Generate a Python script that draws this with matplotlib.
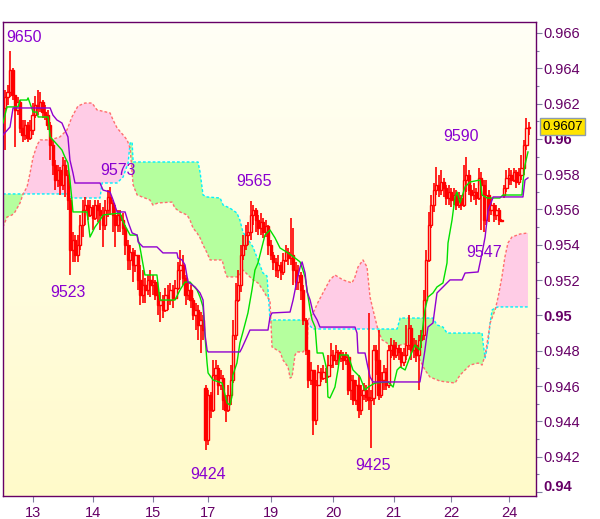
import numpy as np
import matplotlib
matplotlib.use("Agg")
import matplotlib.pyplot as plt
from matplotlib.patches import Rectangle
from matplotlib.collections import LineCollection
from matplotlib.colors import LinearSegmentedColormap
from matplotlib.transforms import ScaledTranslation, blended_transform_factory

plt.rcParams['font.family'] = ['Liberation Sans', 'DejaVu Sans']

# ---------------- data (prices in pips, 1 pip = 0.0001) ----------------
open_p = [
    9617.5, 9623.7, 9626.6, 9639.0, 9624.9, 9616.4, 9620.9, 9606.2, 9602.2, 9607.9,
    9600.5, 9605.0, 9613.5, 9619.2, 9617.5, 9620.9, 9615.2, 9613.5, 9607.9, 9596.5,
    9585.2, 9576.7, 9582.4, 9573.9, 9585.2, 9579.5, 9565.4, 9537.1, 9542.7, 9534.2,
    9539.9, 9551.2, 9559.7, 9562.5, 9556.9, 9561.4, 9555.2, 9562.5, 9559.7, 9556.9,
    9551.2, 9559.7, 9567.1, 9563.7, 9556.9, 9551.2, 9556.9, 9554.0, 9549.5, 9539.9,
    9531.4, 9535.9, 9528.6, 9534.2, 9520.1, 9511.6, 9517.2, 9514.4, 9520.1, 9517.2,
    9518.9, 9511.6, 9505.9, 9508.7, 9503.1, 9511.6, 9508.7, 9514.4, 9509.9, 9515.5,
    9525.7, 9528.6, 9521.2, 9511.6, 9514.4, 9508.7, 9500.2, 9503.1, 9494.6, 9497.4,
    9458.9, 9429.4, 9454.9, 9446.4, 9466.2, 9470.2, 9460.6, 9464.5, 9452.1, 9446.4,
    9454.9, 9463.4, 9488.9, 9508.7, 9517.2, 9534.2, 9539.9, 9545.5, 9547.2, 9556.9,
    9559.7, 9554.0, 9549.5, 9552.9, 9547.2, 9550.6, 9539.9, 9534.2, 9530.3, 9525.7,
    9528.6, 9524.6, 9531.4, 9535.9, 9532.5, 9534.2, 9525.7, 9518.9, 9522.9, 9514.4,
    9497.4, 9480.4, 9463.4, 9469.1, 9440.7, 9460.6, 9467.9, 9464.5, 9467.9, 9465.7,
    9471.9, 9477.6, 9474.7, 9479.3, 9475.9, 9477.6, 9474.7, 9476.4, 9457.7, 9463.4,
    9452.1, 9460.6, 9446.4, 9454.9, 9457.7, 9453.8, 9452.1, 9453.2, 9480.4, 9474.7,
    9454.9, 9463.4, 9467.9, 9460.6, 9480.4, 9483.2, 9477.6, 9481.5, 9479.3, 9473.6,
    9477.6, 9483.2, 9492.9, 9480.4, 9483.2, 9477.6, 9486.1, 9488.9, 9508.7, 9531.4,
    9551.2, 9562.5, 9571.0, 9573.9, 9571.0, 9575.6, 9572.2, 9566.5, 9569.9, 9565.4,
    9568.2, 9562.5, 9566.5, 9562.5, 9576.7, 9579.5, 9571.0, 9568.2, 9569.9, 9566.5,
    9577.9, 9573.9, 9554.0, 9568.2, 9559.7, 9562.5, 9556.9, 9559.7, 9554.0, 9568.2,
    9572.2, 9577.9, 9579.5, 9576.7, 9581.2, 9575.6, 9579.5, 9583.5, 9596.5, 9606.2,
]
high_p = [
    9627.7, 9630.5, 9650.0, 9640.2, 9624.9, 9623.7, 9622.0, 9610.7, 9610.7, 9609.6,
    9610.7, 9620.3, 9624.3, 9627.7, 9626.6, 9622.0, 9619.2, 9616.4, 9609.6, 9599.4,
    9588.0, 9585.2, 9584.1, 9589.7, 9588.0, 9582.4, 9566.5, 9547.2, 9545.5, 9545.5,
    9556.9, 9565.4, 9567.1, 9565.4, 9565.4, 9562.5, 9565.4, 9565.4, 9563.7, 9561.4,
    9565.4, 9571.0, 9573.0, 9565.4, 9562.5, 9559.7, 9559.7, 9558.0, 9551.2, 9542.7,
    9539.9, 9538.2, 9537.1, 9534.2, 9528.6, 9525.7, 9521.2, 9522.9, 9525.7, 9522.9,
    9520.1, 9514.4, 9513.3, 9511.6, 9515.5, 9517.2, 9518.4, 9517.2, 9520.1, 9530.3,
    9537.1, 9534.2, 9522.9, 9518.9, 9517.2, 9509.9, 9507.0, 9505.9, 9501.9, 9500.2,
    9460.6, 9457.7, 9456.6, 9474.7, 9474.7, 9471.9, 9469.1, 9466.2, 9454.9, 9460.6,
    9471.9, 9497.4, 9518.4, 9525.7, 9539.9, 9545.5, 9551.2, 9552.9, 9565.0, 9562.5,
    9560.8, 9556.9, 9558.0, 9555.2, 9554.0, 9551.2, 9542.7, 9535.9, 9532.5, 9534.2,
    9530.3, 9535.4, 9539.9, 9538.2, 9555.2, 9549.5, 9530.3, 9528.6, 9524.6, 9517.2,
    9498.5, 9480.4, 9473.6, 9469.1, 9463.4, 9471.9, 9470.2, 9471.9, 9470.2, 9477.6,
    9484.4, 9480.4, 9483.2, 9480.4, 9480.4, 9479.3, 9479.3, 9477.6, 9466.2, 9466.2,
    9463.4, 9466.2, 9460.6, 9461.7, 9460.6, 9501.4, 9457.7, 9483.2, 9483.2, 9491.7,
    9467.9, 9471.9, 9470.2, 9483.2, 9487.2, 9486.1, 9484.9, 9483.2, 9481.5, 9481.5,
    9494.6, 9500.2, 9494.6, 9487.2, 9486.1, 9488.9, 9491.7, 9514.4, 9537.1, 9558.6,
    9568.2, 9575.0, 9584.1, 9579.5, 9582.4, 9577.9, 9573.9, 9573.9, 9572.2, 9572.2,
    9571.0, 9569.9, 9568.2, 9585.2, 9590.0, 9582.4, 9573.9, 9575.0, 9572.2, 9583.5,
    9581.2, 9576.7, 9576.7, 9571.0, 9566.5, 9563.7, 9562.5, 9560.8, 9554.6, 9573.9,
    9582.4, 9583.5, 9582.4, 9583.5, 9582.4, 9583.5, 9590.9, 9599.4, 9611.8, 9609.6,
]
low_p = [
    9593.7, 9619.2, 9623.7, 9622.0, 9595.4, 9613.5, 9603.3, 9598.2, 9599.4, 9598.2,
    9599.4, 9602.2, 9611.8, 9613.5, 9615.2, 9611.8, 9610.7, 9605.0, 9588.0, 9579.5,
    9571.0, 9572.8, 9568.2, 9571.0, 9567.1, 9559.7, 9523.0, 9530.3, 9530.3, 9530.3,
    9537.1, 9544.4, 9551.2, 9554.0, 9555.7, 9548.4, 9554.0, 9552.9, 9548.4, 9538.8,
    9548.4, 9555.7, 9556.9, 9547.2, 9538.8, 9547.2, 9547.2, 9545.5, 9534.2, 9525.7,
    9525.7, 9518.9, 9524.6, 9514.4, 9505.9, 9507.0, 9507.0, 9511.6, 9510.4, 9511.6,
    9508.7, 9500.2, 9496.3, 9498.5, 9501.9, 9503.1, 9505.9, 9504.2, 9508.7, 9514.4,
    9520.1, 9517.2, 9505.9, 9508.7, 9504.2, 9497.4, 9491.7, 9486.1, 9478.7, 9486.1,
    9424.0, 9426.6, 9441.9, 9445.3, 9463.4, 9454.9, 9457.7, 9446.4, 9439.6, 9445.3,
    9449.2, 9461.7, 9486.1, 9507.6, 9513.3, 9531.4, 9537.1, 9539.9, 9542.7, 9551.2,
    9547.2, 9545.5, 9545.5, 9543.9, 9544.4, 9534.2, 9531.4, 9525.7, 9521.8, 9521.2,
    9520.1, 9522.9, 9530.3, 9528.6, 9528.6, 9517.2, 9514.4, 9514.4, 9508.7, 9494.6,
    9477.6, 9458.9, 9460.6, 9432.2, 9437.9, 9460.6, 9462.3, 9463.4, 9461.7, 9464.5,
    9470.2, 9470.2, 9471.9, 9471.9, 9473.6, 9469.1, 9471.9, 9454.9, 9452.1, 9449.2,
    9449.2, 9441.9, 9443.6, 9452.1, 9450.9, 9446.4, 9425.0, 9449.2, 9466.2, 9452.1,
    9453.2, 9457.7, 9457.7, 9458.9, 9475.9, 9474.7, 9475.9, 9474.7, 9470.2, 9471.3,
    9474.7, 9480.4, 9474.7, 9475.9, 9473.6, 9457.7, 9481.5, 9486.1, 9507.6, 9530.3,
    9549.5, 9558.6, 9568.2, 9567.1, 9568.2, 9567.1, 9562.5, 9562.5, 9561.4, 9562.5,
    9559.7, 9560.8, 9559.7, 9561.4, 9569.9, 9568.2, 9564.2, 9565.4, 9562.5, 9565.4,
    9548.4, 9547.0, 9551.2, 9552.9, 9556.9, 9552.9, 9554.0, 9551.2, 9552.9, 9566.5,
    9569.9, 9573.9, 9573.9, 9575.6, 9572.2, 9573.9, 9576.7, 9579.5, 9593.7, 9602.2,
]
close_p = [
    9623.7, 9626.6, 9639.0, 9624.9, 9616.4, 9620.9, 9606.2, 9602.2, 9607.9, 9600.5,
    9605.0, 9613.5, 9619.2, 9617.5, 9620.9, 9615.2, 9613.5, 9607.9, 9596.5, 9585.2,
    9576.7, 9582.4, 9573.9, 9585.2, 9579.5, 9565.4, 9537.1, 9542.7, 9534.2, 9539.9,
    9551.2, 9559.7, 9562.5, 9556.9, 9561.4, 9555.2, 9562.5, 9559.7, 9556.9, 9551.2,
    9559.7, 9567.1, 9563.7, 9556.9, 9551.2, 9556.9, 9554.0, 9549.5, 9539.9, 9531.4,
    9535.9, 9528.6, 9534.2, 9520.1, 9511.6, 9517.2, 9514.4, 9520.1, 9517.2, 9518.9,
    9511.6, 9505.9, 9508.7, 9503.1, 9511.6, 9508.7, 9514.4, 9509.9, 9515.5, 9525.7,
    9528.6, 9521.2, 9511.6, 9514.4, 9508.7, 9500.2, 9503.1, 9494.6, 9497.4, 9491.7,
    9429.4, 9454.9, 9446.4, 9466.2, 9470.2, 9460.6, 9464.5, 9452.1, 9446.4, 9454.9,
    9463.4, 9488.9, 9508.7, 9517.2, 9534.2, 9539.9, 9545.5, 9547.2, 9556.9, 9559.7,
    9554.0, 9549.5, 9552.9, 9547.2, 9550.6, 9539.9, 9534.2, 9530.3, 9525.7, 9528.6,
    9524.6, 9531.4, 9535.9, 9532.5, 9534.2, 9525.7, 9518.9, 9522.9, 9514.4, 9497.4,
    9480.4, 9463.4, 9469.1, 9440.7, 9460.6, 9467.9, 9464.5, 9467.9, 9465.7, 9471.9,
    9477.6, 9474.7, 9479.3, 9475.9, 9477.6, 9474.7, 9476.4, 9457.7, 9463.4, 9452.1,
    9460.6, 9446.4, 9454.9, 9457.7, 9453.8, 9452.1, 9453.2, 9480.4, 9474.7, 9454.9,
    9463.4, 9467.9, 9460.6, 9480.4, 9483.2, 9477.6, 9481.5, 9479.3, 9473.6, 9477.6,
    9483.2, 9492.9, 9480.4, 9483.2, 9477.6, 9486.1, 9488.9, 9508.7, 9531.4, 9551.2,
    9562.5, 9571.0, 9573.9, 9571.0, 9575.6, 9572.2, 9566.5, 9569.9, 9565.4, 9568.2,
    9562.5, 9566.5, 9562.5, 9576.7, 9579.5, 9571.0, 9568.2, 9569.9, 9566.5, 9577.9,
    9573.9, 9554.0, 9568.2, 9559.7, 9562.5, 9556.9, 9559.7, 9554.0, 9553.5, 9572.2,
    9577.9, 9579.5, 9576.7, 9581.2, 9575.6, 9579.5, 9583.5, 9596.5, 9606.2, 9607.0,
]

# Ichimoku lines: (candle index, price in pips)
tenkan_x = [-0.8, 0.8, 5.2, 6.0, 8.8, 9.2, 11.2, 12.8, 13.2, 17.2, 18.0, 19.9, 22.7, 23.9, 25.1,
            25.9, 26.7, 27.1, 32.7, 33.9, 35.9, 37.9, 39.1, 45.9, 47.1, 49.9, 52.7, 53.8, 55.8,
            60.6, 61.8, 67.8, 69.8, 71.8, 73.8, 76.6, 77.8, 79.0, 79.8, 80.6, 81.0, 83.0, 86.6,
            88.6, 89.7, 90.5, 90.9, 92.5, 93.7, 94.9, 96.9, 98.5, 99.7, 100.9, 102.5, 103.7,
            105.7, 107.7, 109.7, 112.9, 115.7, 117.7, 119.7, 121.7, 122.5, 123.7, 124.5, 126.8,
            128.4, 128.8, 129.6, 131.6, 132.8, 133.6, 136.8, 138.8, 141.6, 143.6, 144.8, 147.6,
            152.8, 154.8, 156.4, 157.6, 159.6, 161.5, 163.5, 165.5, 167.5, 168.7, 170.7, 172.3,
            174.7, 176.3, 176.7, 178.3, 179.5, 180.3, 181.5, 183.5, 185.5, 189.5, 190.3, 192.3,
            197.4, 198.6, 206.2, 206.6, 207.4, 208.6]
tenkan_p = [9609.0, 9618.1, 9618.1, 9622.0, 9622.0, 9623.2, 9615.2, 9615.2, 9612.4, 9612.4,
            9601.1, 9598.2, 9593.7, 9589.7, 9586.3, 9576.7, 9565.4, 9558.6, 9558.6, 9544.4,
            9550.1, 9554.0, 9556.9, 9558.0, 9552.9, 9545.5, 9545.5, 9538.8, 9522.9, 9522.9,
            9508.7, 9508.7, 9514.4, 9518.9, 9518.9, 9514.4, 9510.4, 9504.8, 9487.8, 9473.0,
            9467.4, 9463.4, 9461.7, 9450.4, 9449.2, 9453.8, 9466.2, 9473.0, 9484.4, 9490.6,
            9501.4, 9514.4, 9525.7, 9529.7, 9538.8, 9545.5, 9548.4, 9543.9, 9538.2, 9535.4,
            9532.5, 9530.3, 9521.8, 9503.1, 9497.4, 9493.4, 9478.7, 9478.7, 9469.1, 9453.8,
            9453.2, 9459.4, 9469.1, 9477.6, 9477.6, 9469.1, 9465.1, 9457.7, 9459.4, 9461.7,
            9462.3, 9459.4, 9469.1, 9470.8, 9469.1, 9476.4, 9483.2, 9480.4, 9503.1, 9510.4,
            9512.7, 9516.1, 9518.4, 9529.7, 9541.0, 9554.0, 9567.1, 9569.9, 9563.7, 9572.8,
            9575.6, 9576.7, 9568.2, 9566.5, 9566.5, 9568.2, 9568.2, 9575.6, 9585.2, 9592.6]

kijun_x = [-0.8, 2.0, 3.2, 18.0, 19.1, 20.7, 22.7, 23.9, 25.1, 25.9, 27.1, 27.9, 37.9, 39.1, 41.9,
           43.1, 44.7, 47.9, 49.1, 50.7, 52.7, 53.1, 55.0, 60.6, 61.8, 63.0, 68.6, 69.0, 70.6,
           71.8, 73.0, 75.8, 77.8, 79.0, 79.8, 80.6, 81.0, 93.7, 94.5, 96.5, 97.7, 104.9, 105.7,
           106.5, 113.7, 114.9, 116.5, 117.7, 118.5, 119.7, 120.5, 121.7, 122.9, 124.5, 125.6,
           139.6, 140.4, 140.8, 143.6, 144.4, 145.6, 146.8, 165.5, 166.3, 167.5, 168.7, 170.7,
           172.3, 174.7, 176.3, 177.5, 182.3, 183.5, 188.7, 190.3, 191.5, 192.7, 194.3, 194.7,
           206.6, 207.4, 208.6]
kijun_p = [9602.2, 9606.7, 9617.5, 9617.5, 9613.5, 9610.7, 9609.0, 9605.0, 9601.1, 9588.0,
           9580.7, 9575.0, 9575.0, 9571.0, 9569.9, 9565.4, 9558.6, 9558.6, 9552.9, 9546.7,
           9545.5, 9541.6, 9538.8, 9538.8, 9537.1, 9535.4, 9535.4, 9532.5, 9531.4, 9528.6,
           9518.9, 9516.1, 9512.7, 9508.7, 9488.9, 9480.4, 9479.3, 9479.3, 9481.5, 9487.8,
           9491.7, 9491.7, 9499.1, 9501.4, 9501.9, 9508.7, 9520.1, 9527.4, 9530.3, 9524.0,
           9513.3, 9508.7, 9501.4, 9497.4, 9493.4, 9493.4, 9490.0, 9478.7, 9478.7, 9473.0,
           9465.1, 9462.3, 9462.3, 9469.1, 9480.4, 9493.4, 9495.7, 9512.7, 9516.1, 9518.4,
           9520.1, 9520.1, 9524.0, 9524.6, 9535.4, 9544.4, 9559.7, 9565.4, 9567.1, 9567.1,
           9576.7, 9577.9]

span_a_x = [-0.8, 24.7, 26.7, 37.9, 38.7, 44.7, 47.1, 49.1, 49.9, 50.7, 51.1, 77.0, 77.8, 79.0,
            80.6, 85.8, 87.0, 89.7, 92.5, 93.7, 94.9, 98.9, 100.9, 102.9, 104.5, 104.9, 105.7,
            118.9, 120.5, 122.9, 156.4, 157.6, 170.7, 172.3, 174.7, 176.3, 190.3, 190.7, 191.5,
            192.7, 193.5, 194.3, 195.5, 196.7, 208.6]
span_a_p = [9568.8, 9568.8, 9566.5, 9566.5, 9575.0, 9575.0, 9578.4, 9586.3, 9597.7, 9598.2,
            9586.9, 9586.9, 9581.2, 9568.2, 9567.1, 9566.5, 9562.5, 9560.8, 9558.0, 9554.0,
            9547.2, 9538.8, 9531.4, 9524.0, 9522.3, 9514.4, 9497.4, 9497.4, 9495.7, 9492.3,
            9492.3, 9498.5, 9498.5, 9494.6, 9493.4, 9490.0, 9490.0, 9484.4, 9475.9, 9484.4,
            9495.7, 9503.1, 9504.2, 9504.8, 9504.8]

span_b_x = [-0.8, 0.8, 2.8, 4.0, 6.0, 7.2, 8.8, 10.0, 11.2, 12.8, 14.0, 18.0, 21.9, 24.7, 26.7,
            29.1, 31.9, 34.7, 36.7, 41.9, 43.1, 44.7, 47.1, 48.7, 49.9, 51.1, 52.7, 57.8, 59.0,
            61.0, 66.6, 67.8, 69.8, 72.6, 73.8, 75.0, 76.6, 77.8, 79.0, 80.6, 81.8, 86.6, 87.8,
            88.6, 92.9, 94.9, 97.7, 98.9, 100.9, 102.9, 104.5, 105.7, 106.5, 109.7, 110.9,
            112.9, 113.7, 114.5, 115.7, 116.5, 118.9, 120.5, 120.9, 122.9, 124.9, 126.8, 129.6,
            131.6, 134.8, 138.4, 139.6, 140.8, 142.8, 144.4, 145.6, 146.8, 148.8, 150.4, 152.4,
            153.6, 155.6, 157.6, 161.5, 163.5, 165.5, 167.5, 169.5, 173.5, 179.5, 181.5, 185.5,
            188.7, 190.3, 191.5, 192.7, 193.5, 195.5, 196.7, 198.2, 199.4, 200.6, 202.2, 205.4,
            208.6]
span_b_p = [9550.1, 9555.7, 9556.9, 9558.6, 9563.7, 9568.8, 9572.8, 9580.7, 9589.7, 9596.5,
            9599.4, 9599.4, 9601.1, 9605.0, 9612.4, 9618.6, 9620.3, 9620.3, 9616.4, 9614.7,
            9610.7, 9606.2, 9602.2, 9599.4, 9594.8, 9573.9, 9568.2, 9565.4, 9562.5, 9563.7,
            9564.2, 9560.8, 9558.6, 9556.9, 9554.0, 9549.5, 9546.7, 9543.9, 9539.9, 9535.4,
            9531.4, 9531.4, 9524.6, 9521.8, 9521.8, 9525.7, 9521.8, 9520.1, 9518.4, 9514.4,
            9510.4, 9508.7, 9482.1, 9479.3, 9474.7, 9470.8, 9464.5, 9465.1, 9477.6, 9479.3,
            9479.3, 9482.1, 9497.4, 9501.4, 9507.6, 9512.7, 9520.1, 9522.9, 9520.1, 9518.4,
            9521.8, 9527.4, 9531.4, 9527.4, 9510.4, 9503.1, 9491.7, 9486.1, 9484.4, 9480.4,
            9482.1, 9483.2, 9484.4, 9480.4, 9474.7, 9469.1, 9465.1, 9462.8, 9461.7, 9466.2,
            9471.9, 9473.0, 9471.9, 9477.6, 9487.8, 9495.7, 9503.1, 9510.4, 9521.8, 9533.1,
            9541.0, 9544.4, 9546.1, 9546.7]

day_labels = ['13', '14', '15', '17', '19', '20', '21', '22', '24']
day_index = [11, 35, 59, 81, 106, 131, 155, 178, 201]

y_ticks = [0.940, 0.942, 0.944, 0.946, 0.948, 0.950, 0.952, 0.954, 0.956, 0.958,
           0.960, 0.962, 0.964, 0.966]
y_tick_labels = ['', '0.942', '0.944', '0.946', '0.948', '0.95', '0.952', '0.954', '0.956',
                 '0.958', '0.96', '0.962', '0.964', '0.966']
y_minor = [0.941, 0.943, 0.945, 0.947, 0.949, 0.951, 0.953, 0.955, 0.957, 0.959,
           0.961, 0.963, 0.965]

extreme_labels = ['9650', '9573', '9523', '9565', '9424', '9425', '9590', '9547']
extreme_label_xy = [(7.6, 0.96577), (45.1, 0.95818), (25.1, 0.95127), (99.3, 0.95756),
                    (81.0, 0.94096), (146.8, 0.94152), (181.9, 0.96016), (191.1, 0.95354)]
last_price = '0.9607'

PIP = 1e-4
o = np.array(open_p) * PIP
h = np.array(high_p) * PIP
l = np.array(low_p) * PIP
c = np.array(close_p) * PIP
idx = np.arange(len(c))

# ---------------- figure ----------------
fig = plt.figure(figsize=(6.0, 5.19), dpi=100)
fig.patch.set_facecolor('white')
ax = fig.add_axes([3 / 600, 1 - 496 / 519, 533 / 600, 474 / 519])

grad = np.linspace(0, 1, 256).reshape(-1, 1)
cmap_bg = LinearSegmentedColormap.from_list('bg', ['#FFFFF6', '#FFFACA'])
ax.imshow(grad, cmap=cmap_bg, extent=[0, 1, 0, 1], transform=ax.transAxes,
          aspect='auto', zorder=0, interpolation='bilinear')

# cloud
sax = np.array(span_a_x); sap = np.array(span_a_p) * PIP
sbx = np.array(span_b_x); sbp = np.array(span_b_p) * PIP
grid = np.linspace(max(sax[0], sbx[0]), min(sax[-1], sbx[-1]), 4000)
a = np.interp(grid, sax, sap)
b = np.interp(grid, sbx, sbp)
ax.fill_between(grid, a, b, where=a >= b, interpolate=True, color='#B5FF9E', lw=0, zorder=1)
ax.fill_between(grid, a, b, where=b > a, interpolate=True, color='#FFCCE6', lw=0, zorder=1)
ax.plot(sax, sap, color='#00F0FF', lw=1.0, ls=(0, (2, 1.5)), zorder=2)
ax.plot(sbx, sbp, color='#FF6E6E', lw=1.0, ls=(0, (2, 1.5)), zorder=2)

# candles
segs = [[(i, l[i]), (i, h[i])] for i in idx]
ax.add_collection(LineCollection(segs, colors='#FF0000', linewidths=1.2, zorder=3))
for i in idx:
    bottom = min(o[i], c[i])
    height = max(abs(c[i] - o[i]), 0.00003)
    up = c[i] > o[i]
    ax.add_patch(Rectangle((i - 0.45, bottom), 0.9, height,
                           facecolor='#FFFDE6' if up else '#FF0000',
                           edgecolor='#FF0000', lw=1.0, zorder=3.5))

# tenkan / kijun
ax.plot(tenkan_x, np.array(tenkan_p) * PIP, color='#00E000', lw=1.0, zorder=4)
ax.plot(kijun_x, np.array(kijun_p) * PIP, color='#9000D0', lw=1.0, zorder=4)

# extreme labels
for txt, (xx, yy) in zip(extreme_labels, extreme_label_xy):
    ax.text(xx, yy, txt, color='#8A00D0', fontsize=11.5, ha='center', va='center', zorder=6)

# axes
ax.set_xlim(-0.8, 211.8)
ax.set_ylim(0.93977, 0.96662)
ax.yaxis.tick_right()
ax.set_yticks(y_ticks)
ax.set_yticklabels(y_tick_labels)
ax.set_yticks(y_minor, minor=True)
ax.set_xticks(day_index)
ax.set_xticklabels(day_labels)
ax.tick_params(axis='both', which='major', color='#8080A0', labelcolor='#660066',
               labelsize=10.5, length=4, width=0.8)
ax.tick_params(axis='y', which='major', pad=1.5)
ax.tick_params(axis='x', which='major', pad=3)
ax.tick_params(axis='y', which='minor', length=2.5, color='#8080A0', width=0.8)
for s in ax.spines.values():
    s.set_color('#660066')
    s.set_linewidth(1.0)
for lbl in ax.get_yticklabels():
    if lbl.get_text() in ('0.95', '0.96'):
        lbl.set_fontweight('bold')

# bottom label 0.94 sits slightly above its tick
tr = blended_transform_factory(ax.transAxes, ax.transData) + \
    ScaledTranslation(7 / 100, 5 / 100, fig.dpi_scale_trans)
ax.text(1.0, 0.940, '0.94', transform=tr, ha='left', va='center', fontsize=10.5,
        color='#660066', fontweight='bold', clip_on=False)

# last price box
fig.text(562.5 / 600, 1 - 126.5 / 519, last_price, ha='center', va='center', fontsize=9.5,
         color='black', zorder=10,
         bbox=dict(boxstyle='square,pad=0.18', fc='#FFE400', ec='#8C9CB0', lw=1.0))

fig.savefig('out.png', dpi=100)
